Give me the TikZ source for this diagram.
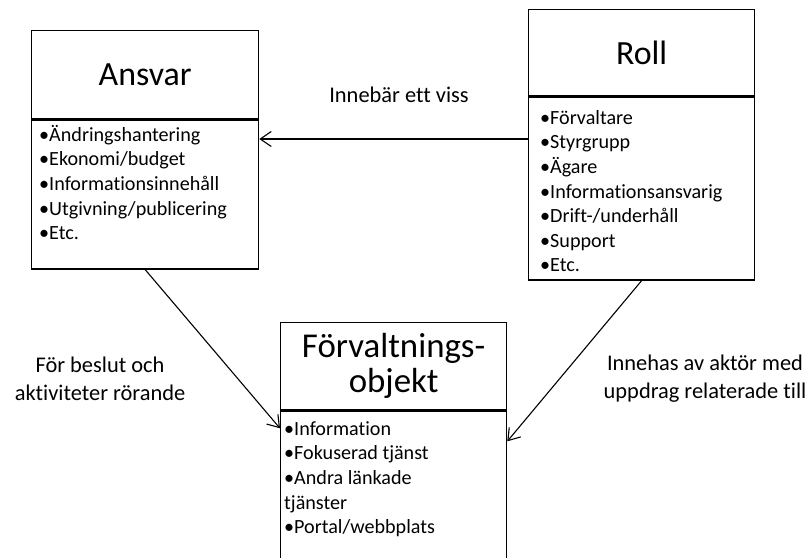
\documentclass[tikz,border=0pt]{standalone}
\usepackage{fontspec}
\setmainfont{Carlito}[Ligatures=NoCommon]
\usetikzlibrary{arrows.meta,calc}

\newcommand{\toprule}{\rule{0pt}{17bp}}

\tikzset{
  frame/.style={draw=black, line width=1.3bp, inner sep=0pt, anchor=north west},
  title/.style={font=\fontsize{34}{36}\selectfont, inner sep=0pt, align=center},
  items/.style={font=\fontsize{20.2}{24.7}\selectfont, inner sep=0pt, align=left, anchor=north west},
  caption/.style={font=\fontsize{22.5}{28}\selectfont, inner sep=0pt, align=center},
  link/.style={line width=1.1bp, -{Straight Barb[length=11bp,width=15bp]}}
}

\begin{document}
\begin{tikzpicture}[x=1bp, y=-1bp]
\useasboundingbox (0,0) rectangle (807,558);
\clip (0,0) rectangle (807,558);

% Ansvar
\node[frame, minimum width=227bp, minimum height=88bp] (ansvarhead) at (31,30) {};
\node[frame, minimum width=227bp, minimum height=149bp] (ansvarbody) at (ansvarhead.south west) {};
\node[title] (ansvartitle) at (ansvarhead.center) {Ansvar};
\node[items] (ansvarlist) at (39,141-17) {\toprule•Ändringshantering\\•Ekonomi/budget\\•Informationsinnehåll\\•Utgivning/publicering\\•Etc.};

% Roll
\node[frame, minimum width=226bp, minimum height=86bp] (rollhead) at (528,9) {};
\node[frame, minimum width=226bp, minimum height=183bp] (rollbody) at (rollhead.south west) {};
\node[title] (rolltitle) at (rollhead.center) {Roll};
\node[items] (rolllist) at (540,124-17) {\toprule•Förvaltare\\•Styrgrupp\\•Ägare\\•Informationsansvarig\\•Drift-/underhåll\\•Support\\•Etc.};

% Förvaltningsobjekt
\node[frame, minimum width=226bp, minimum height=87bp] (objhead) at (280,322) {};
\node[frame, minimum width=226bp, minimum height=170bp] (objbody) at (objhead.south west) {};
\node[title, font=\fontsize{35}{35}\selectfont] (objtitle) at (objhead.center) {Förvaltnings-\\objekt};
\node[items] (objlist) at (284,435-17) {\toprule•Information\\•Fokuserad tjänst\\•Andra länkade\\tjänster\\•Portal/webbplats};

% Connectors
\draw[link] (rollbody.west |- 0,139) -- (ansvarbody.east |- 0,139);
\draw[link] (ansvarbody.south) -- ($(objbody.north west)+(0,18)$);
\draw[link] (rollbody.south) -- ($(objbody.north east)+(0,31)$);

% Connector captions
\node[caption] (cap1) at (399,95) {Innebär ett viss};
\node[caption] (cap2) at (100,379) {För beslut och\\aktiviteter rörande};
\node[caption] (cap3) at (705,379) {Innehas av aktör med\\uppdrag relaterade till};
\end{tikzpicture}
\end{document}
